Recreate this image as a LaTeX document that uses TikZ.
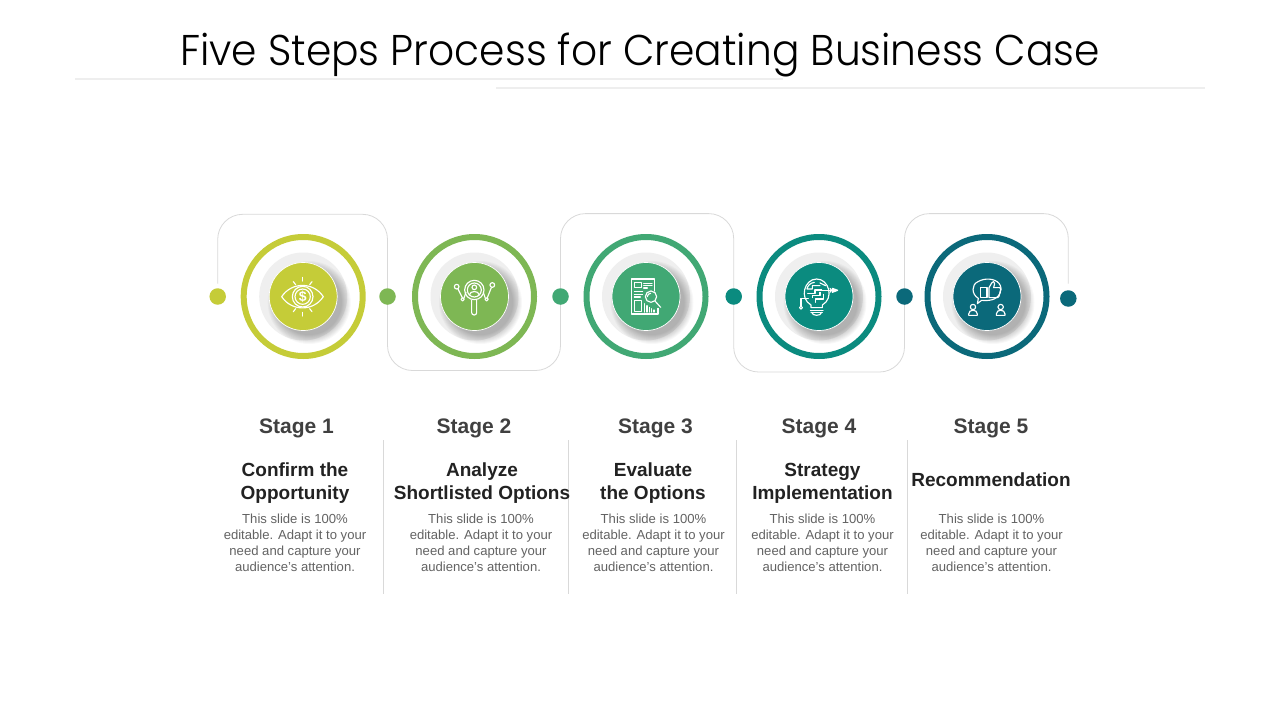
\documentclass[tikz,border=0pt]{standalone}
\usepackage{fontspec}
\usetikzlibrary{backgrounds}
\setmainfont{Liberation Sans}
\newfontfamily\titlefont{Poppins Light}
\definecolor{cA}{HTML}{C5CC38}
\definecolor{cB}{HTML}{7EB754}
\definecolor{cC}{HTML}{41A874}
\definecolor{cD}{HTML}{0B8B7F}
\definecolor{cE}{HTML}{0B697A}
\definecolor{connc}{HTML}{D9D9D9}
\definecolor{stagec}{HTML}{404040}
\definecolor{headc}{HTML}{222222}
\definecolor{bodyc}{HTML}{636363}
\definecolor{haloc}{HTML}{EFEFEF}
\definecolor{ruleg}{HTML}{EEEEEE}
\tikzset{
  ringnode/.style={circle,draw=#1,line width=6pt,minimum size=119pt,inner sep=0pt,outer sep=0pt},
  halo/.style={circle,fill=haloc,minimum size=88pt,inner sep=0pt,outer sep=0pt},
  disc/.style={circle,fill=#1,draw=white,line width=.7pt,minimum size=68pt,inner sep=0pt,outer sep=0pt},
  dotnode/.style={circle,fill=#1,minimum size=16.5pt,inner sep=0pt,outer sep=0pt},
  conn/.style={draw=connc,line width=.8pt,rounded corners=25pt},
  sep/.style={draw=connc,line width=.9pt},
  rulec/.style={draw=ruleg,line width=1.4pt},
  stagetxt/.style={font=\fontsize{21}{24}\selectfont\bfseries,text=stagec,inner sep=0pt},
  headtxt/.style={font=\fontsize{19}{23}\selectfont\bfseries,text=headc,align=center,inner sep=0pt},
  bodytxt/.style={font=\fontsize{13.1}{16}\selectfont,text=bodyc,align=center,inner sep=0pt},
  icon/.style 2 args={shift={(#1,#2)},x=0.3333pt,y=-0.3333pt,draw=white,line width=1.15pt,line cap=round,line join=round},
}
\begin{document}
\begin{tikzpicture}[x=1pt,y=-1pt]
\useasboundingbox (0,0) rectangle (1280,720);
% title
\node[name=title,font=\fontsize{43}{50}\selectfont\titlefont,text=black,inner sep=0pt,xscale=.948] at (640,55) {Five Steps Process for Creating Business Case};
\coordinate (ruleAa) at (75,79);
\coordinate (ruleAb) at (783,79);
\coordinate (ruleBa) at (496,88);
\coordinate (ruleBb) at (1205,88);
\draw[rulec] (ruleAa) -- (ruleAb);
\draw[rulec] (ruleBa) -- (ruleBb);
% anchors for connector levels
\coordinate (topA) at (0,214.3);
\coordinate (botA) at (0,370.5);
\coordinate (topB) at (0,213.6);
\coordinate (botB) at (0,372);
% dots
\node[dotnode=cA] (d1) at (217.7,296.5) {};
\node[dotnode=cB] (d2) at (387.5,296.5) {};
\node[dotnode=cC] (d3) at (560.5,296.5) {};
\node[dotnode=cD] (d4) at (733.7,296.5) {};
\node[dotnode=cE] (d5) at (904.5,296.5) {};
\node[dotnode=cE] (d6) at (1068.3,298.5) {};
% connectors, beneath the dots
\begin{pgfonlayer}{background}
\fill[white] (0,0) rectangle (1280,720);
\draw[conn,shorten <=13pt] (d1.center) -- (d1.center |- topA) -- (d2.center |- topA) -- (d2.center);
\draw[conn] (d2.center) -- (d2.center |- botA) -- (d3.center |- botA) -- (d3.center);
\draw[conn] (d3.center) -- (d3.center |- topB) -- (d4.center |- topB) -- (d4.center);
\draw[conn] (d4.center) -- (d4.center |- botB) -- (d5.center |- botB) -- (d5.center);
\draw[conn,shorten >=15pt] (d5.center) -- (d5.center |- topB) -- (d6.center |- topB) -- (d6.center);
\end{pgfonlayer}
% rings, halos, shadows, discs
\foreach \n/\x/\c in {1/303.2/cA,2/474.5/cB,3/646/cC,4/819/cD,5/987/cE}{
  \node[ringnode=\c] (ring\n) at (\x,296.5) {};
  \node[halo] (halo\n) at (\x,296.5) {};
  \foreach \r in {41.5,40.5,...,32}
    \fill[black,opacity=.028] (\x+6,296.5+6) circle (\r);
  \node[disc=\c] (disc\n) at (\x,296.5) {};
}
% icon 1: eye
\begin{scope}[icon={260}{255}]
\draw (65,125) .. controls (95,80) and (160,80) .. (190,125) .. controls (160,170) and (95,170) .. (65,125) -- cycle;
\draw (128,125) circle (31);
\draw (128,125) circle (23);
\draw (100,80) -- (107,89); \draw (128,67) -- (128,78); \draw (156,80) -- (149,89);
\draw (100,170) -- (107,161); \draw (128,183) -- (128,172); \draw (156,170) -- (149,161);
\end{scope}
\node[name=dollar,font=\fontsize{14}{14}\selectfont\bfseries,text=white,inner sep=0pt] at (302.7,296.7) {\$};
% icon 2: magnifier with person and branches
\begin{scope}[icon={430}{255}]
\draw (133,105) circle (29);
\draw (133,105) circle (21);
\draw (133,97) circle (7);
\draw (118,120) .. controls (120,106) and (146,106) .. (148,120);
\draw[rounded corners=2.4pt] (125,136) -- (125,180) -- (140,180) -- (140,136);
\draw (80,95) circle (7);
\draw (84,102) -- (97,128);
\draw (98,133) circle (5);
\draw (102,129) -- (108,112);
\draw (187,90) circle (7);
\draw (184,98) -- (172,128);
\draw (170,133) circle (5);
\draw (166,130) -- (160,112);
\end{scope}
% icon 3: report
\begin{scope}[icon={602}{255}]
\draw (158,108) -- (158,72) -- (88,72) -- (88,177) -- (168,177) -- (168,160);
\draw (97,82) rectangle (118,98);
\draw (125,85) -- (150,85); \draw (125,92) -- (150,92); \draw (125,99) -- (136,99);
\draw (97,110) -- (122,110); \draw (97,118) -- (122,118); \draw (97,126) -- (115,126);
\draw (97,137) rectangle (118,170);
\draw (147,125) circle (17);
\draw (136,125) .. controls (136,119) and (141,115) .. (146,115);
\draw (159,138) -- (176,157);
\draw (128,171) -- (128,146);
\draw (135,171) -- (135,152);
\draw (142,171) -- (142,157);
\draw (149,171) -- (149,161);
\draw (156,171) -- (156,165);
\end{scope}
% icon 4: bulb
\begin{scope}[icon={775}{255}]
\draw (108,150) .. controls (72,130) and (88,72) .. (125,72) .. controls (162,72) and (178,130) .. (142,150) -- (142,158) -- (108,158) -- cycle;
\draw (118,82) .. controls (105,84) and (98,92) .. (96,102) -- (112,102) -- (112,92) -- (135,92);
\draw (98,115) -- (120,115) -- (120,105) -- (140,105);
\draw (112,128) -- (112,122) -- (135,122) -- (135,112);
\draw (122,142) -- (122,132) -- (145,132) -- (145,118);
\draw (135,84) -- (152,92);
\draw (125,106) -- (178,106);
\draw[fill=white] (172,100) -- (188,106) -- (172,112) -- cycle;
\draw (165,100) -- (170,106) -- (165,112);
\draw (78,154) -- (78,130) -- (100,130);
\draw (78,158) circle (4.5);
\draw (106,166) -- (144,166);
\draw (108,172) -- (142,172);
\draw (110,172) .. controls (112,184) and (138,184) .. (140,172);
\end{scope}
% icon 5: speech bubble, thumb, people
\begin{scope}[icon={943}{255}]
\draw (106,130) .. controls (85,118) and (85,88) .. (105,80) .. controls (125,68) and (155,70) .. (168,85) .. controls (182,102) and (170,128) .. (148,134) .. controls (137,137) and (125,137) .. (116,136) -- (103,146) -- (106,130) -- cycle;
\draw (113,98) rectangle (132,128);
\draw (138,128) -- (138,98) -- (146,84) .. controls (148,78) and (156,78) .. (155,86) -- (152,98) -- (170,98) .. controls (176,100) and (174,106) .. (172,108) -- (168,124) .. controls (167,128) and (163,128) .. (160,128) -- cycle;
\draw (90,156) circle (8);
\draw (77,181) -- (77,177) .. controls (77,162) and (103,162) .. (103,177) -- (103,181) -- cycle;
\draw (173,156) circle (8);
\draw (160,181) -- (160,177) .. controls (160,162) and (186,162) .. (186,177) -- (186,181) -- cycle;
\end{scope}
% separators
\foreach \n/\x in {1/383.3,2/568.3,3/736.7,4/907.3}{
  \coordinate (septop\n) at (\x,440);
  \coordinate (sepbot\n) at (\x,593.5);
  \draw[sep] (septop\n) -- (sepbot\n);
}
% stage labels
\node[stagetxt] (s1) at (296.5,428) {Stage 1};
\node[stagetxt] (s2) at (474,428) {Stage 2};
\node[stagetxt] (s3) at (655.5,428) {Stage 3};
\node[stagetxt] (s4) at (819,428) {Stage 4};
\node[stagetxt] (s5) at (991,428) {Stage 5};
% headings
\node[headtxt] (h1) at (295,483.5) {Confirm the\\Opportunity};
\node[headtxt] (h2) at (482,483.5) {Analyze\\Shortlisted Options};
\node[headtxt] (h3) at (653,483.5) {Evaluate\\the Options};
\node[headtxt] (h4) at (822.5,483.5) {Strategy\\Implementation};
\node[headtxt] (h5) at (991,479.5) {Recommendation};
% bodies
\foreach \n/\x in {1/295,2/481,3/653.5,4/822.5,5/991.5}
  \node[bodytxt] (b\n) at (\x,542.5) {This slide is 100\%\\editable. Adapt it to your\\need and capture your\\audience’s attention.};
\end{tikzpicture}
\end{document}
